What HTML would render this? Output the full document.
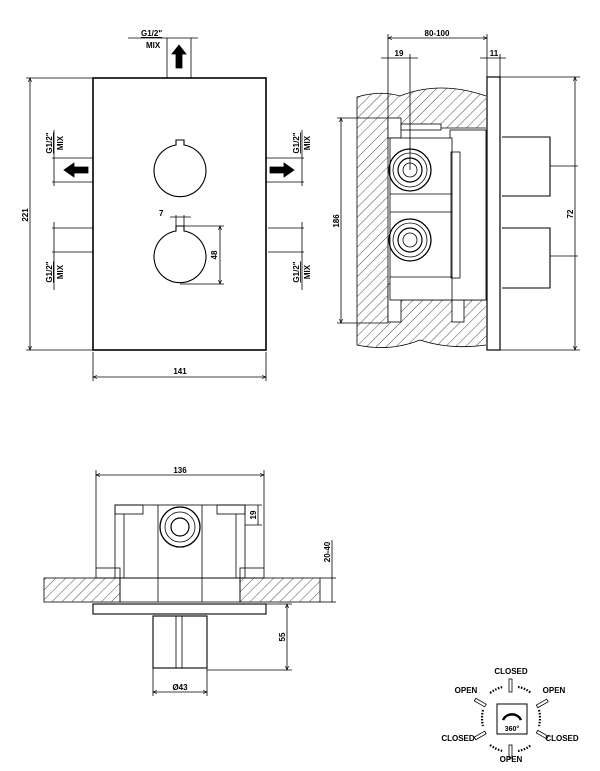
<!DOCTYPE html>
<html><head><meta charset="utf-8"><style>
html,body{margin:0;padding:0;background:#fff;}
svg{display:block;}
text{font-family:"Liberation Sans",Arial,sans-serif;font-weight:bold;fill:#000;}
</style></head><body>
<svg width="600" height="771" viewBox="0 0 600 771" xmlns="http://www.w3.org/2000/svg">
<defs>
<pattern id="h" patternUnits="userSpaceOnUse" width="7" height="7" patternTransform="rotate(45)">
<line x1="0" y1="0" x2="0" y2="7" stroke="#000" stroke-width="0.7"/>
</pattern>
<marker id="a" markerWidth="6" markerHeight="6" refX="5" refY="3" orient="auto-start-reverse"><path d="M0,1 L5,3 L0,5" fill="none" stroke="#000" stroke-width="0.8"/></marker>
</defs>
<g fill="none" stroke="#000" stroke-width="0.8">
<!-- FRONT VIEW -->
<rect x="93" y="78" width="173" height="272" stroke-width="1.6"/>
<line x1="167" y1="38" x2="167" y2="78"/><line x1="191" y1="38" x2="191" y2="78"/>
<line x1="128" y1="38" x2="198" y2="38"/>
<path d="M176,68 h6 v-14 h4 l-7,-9 l-7,9 h4 z" fill="#000"/>
<!-- circles -->
<path d="M176,145 v-5 h8 v5 A26,26 0 1 1 176,145 z" stroke-width="1.1"/>
<path d="M176,231 v-5 h8 v5 A26,26 0 1 1 176,231 z" stroke-width="1.1"/>
<line x1="170" y1="217" x2="191" y2="217"/><line x1="176" y1="215" x2="176" y2="226"/><line x1="184" y1="215" x2="184" y2="226"/>
<line x1="184" y1="226" x2="224" y2="226"/><line x1="180" y1="284" x2="224" y2="284"/>
<line x1="220" y1="226" x2="220" y2="284" marker-start="url(#a)" marker-end="url(#a)"/>
<!-- left side -->
<line x1="52" y1="158" x2="93" y2="158"/><line x1="52" y1="182" x2="93" y2="182"/>
<line x1="54" y1="130" x2="54" y2="186"/>
<path d="M88,167 h-14 v-4 l-10,7 l10,7 v-4 h14 z" fill="#000"/>
<line x1="52" y1="228" x2="93" y2="228"/><line x1="52" y1="252" x2="93" y2="252"/>
<line x1="54" y1="222" x2="54" y2="290"/>
<!-- right side -->
<line x1="266" y1="158" x2="304" y2="158"/><line x1="266" y1="182" x2="304" y2="182"/>
<line x1="302" y1="130" x2="302" y2="186"/>
<path d="M270,167 h14 v-4 l10,7 l-10,7 v-4 h-14 z" fill="#000"/>
<line x1="268" y1="228" x2="304" y2="228"/><line x1="268" y1="252" x2="304" y2="252"/>
<line x1="302" y1="222" x2="302" y2="290"/>
<!-- 221 -->
<line x1="26" y1="78" x2="93" y2="78"/><line x1="26" y1="350" x2="93" y2="350"/>
<line x1="30" y1="78" x2="30" y2="350" marker-start="url(#a)" marker-end="url(#a)"/>
<!-- 141 -->
<line x1="93" y1="352" x2="93" y2="381"/><line x1="266" y1="352" x2="266" y2="381"/>
<line x1="93" y1="377" x2="266" y2="377" marker-start="url(#a)" marker-end="url(#a)"/>

<!-- SIDE VIEW -->
<path d="M357,97 Q380,90 400,96 Q440,80 486,96 L486,128 L388,128 L388,300 L486,300 L486,345 Q450,350 420,340 Q390,352 357,345 Z" fill="url(#h)" stroke="none"/>
<path d="M357,97 Q380,90 400,96 Q440,80 486,96 M357,97 V345 Q390,352 420,340 Q450,350 486,345"/>
<path d="M388,118 V323 M388,128 H486 M388,300 H486"/>
<rect x="388" y="118" width="13" height="20" fill="#fff"/>
<rect x="388" y="284" width="13" height="38" fill="#fff"/>
<rect x="452" y="300" width="12" height="22" fill="#fff"/>
<rect x="401" y="124" width="40" height="6" fill="#fff"/>
<rect x="450" y="130" width="36" height="170" fill="#fff"/>
<rect x="390" y="138" width="62" height="162" fill="#fff"/>
<line x1="390" y1="194" x2="452" y2="194"/><line x1="390" y1="212" x2="452" y2="212"/>
<line x1="390" y1="277" x2="452" y2="277"/>
<rect x="451" y="152" width="9" height="126"/>
<circle cx="410" cy="170" r="21" stroke-width="1.3"/><circle cx="410" cy="170" r="17"/><circle cx="410" cy="170" r="12" stroke-width="1.2"/><circle cx="410" cy="170" r="7"/>
<circle cx="410" cy="240" r="21" stroke-width="1.3"/><circle cx="410" cy="240" r="17"/><circle cx="410" cy="240" r="12" stroke-width="1.2"/><circle cx="410" cy="240" r="7"/>
<rect x="487" y="77" width="13" height="273" stroke-width="1.2" fill="#fff"/>
<path d="M502,137 H550 V196 H502 M502,228 H550 V288 H502" stroke-width="1.1"/>
<line x1="550" y1="166" x2="578" y2="166"/><line x1="550" y1="256" x2="578" y2="256"/>
<line x1="500" y1="77" x2="580" y2="77"/><line x1="500" y1="350" x2="580" y2="350"/>
<line x1="575" y1="77" x2="575" y2="350" marker-start="url(#a)" marker-end="url(#a)"/>
<line x1="388" y1="34" x2="388" y2="118"/><line x1="487" y1="34" x2="487" y2="77"/>
<line x1="388" y1="38" x2="487" y2="38" marker-start="url(#a)" marker-end="url(#a)"/>
<line x1="381" y1="58" x2="418" y2="58"/><line x1="410" y1="54" x2="410" y2="170"/>
<line x1="480" y1="58" x2="506" y2="58"/><line x1="500" y1="54" x2="500" y2="77"/>
<line x1="337" y1="118" x2="388" y2="118"/><line x1="337" y1="323" x2="388" y2="323"/>
<line x1="341" y1="118" x2="341" y2="323" marker-start="url(#a)" marker-end="url(#a)"/>

<!-- BOTTOM VIEW -->
<rect x="44" y="578" width="76" height="24" fill="url(#h)"/>
<rect x="240" y="578" width="80" height="24" fill="url(#h)"/>
<rect x="120" y="578" width="120" height="24"/>
<line x1="158" y1="578" x2="158" y2="602"/><line x1="202" y1="578" x2="202" y2="602"/>
<rect x="115" y="505" width="130" height="73"/>
<rect x="115" y="505" width="28" height="9"/><rect x="217" y="505" width="28" height="9"/>
<rect x="96" y="568" width="24" height="10"/><rect x="240" y="568" width="24" height="10"/>
<line x1="158" y1="505" x2="158" y2="578"/><line x1="202" y1="505" x2="202" y2="578"/>
<line x1="124" y1="514" x2="124" y2="578"/><line x1="236" y1="514" x2="236" y2="578"/>
<circle cx="180" cy="527" r="20" stroke-width="1.3"/><circle cx="180" cy="527" r="15"/><circle cx="180" cy="527" r="9" stroke-width="1.2"/>
<rect x="93" y="604" width="173" height="10" stroke-width="1.1"/>
<rect x="153" y="616" width="54" height="52" stroke-width="1.1"/>
<line x1="176" y1="616" x2="176" y2="668"/><line x1="182" y1="616" x2="182" y2="668"/>
<line x1="96" y1="470" x2="96" y2="568"/><line x1="264" y1="470" x2="264" y2="568"/>
<line x1="96" y1="475" x2="264" y2="475" marker-start="url(#a)" marker-end="url(#a)"/>
<line x1="245" y1="505" x2="262" y2="505"/><line x1="245" y1="525" x2="262" y2="525"/>
<line x1="258" y1="505" x2="258" y2="525"/>
<line x1="320" y1="578" x2="336" y2="578"/><line x1="320" y1="602" x2="336" y2="602"/>
<line x1="332" y1="540" x2="332" y2="602"/>
<line x1="266" y1="604" x2="292" y2="604"/><line x1="207" y1="670" x2="292" y2="670"/>
<line x1="287" y1="604" x2="287" y2="670" marker-start="url(#a)" marker-end="url(#a)"/>
<line x1="153" y1="668" x2="153" y2="696"/><line x1="207" y1="668" x2="207" y2="696"/>
<line x1="153" y1="692" x2="207" y2="692" marker-start="url(#a)" marker-end="url(#a)"/>

<!-- rotation icon -->
<rect x="497" y="704" width="30" height="30" stroke-width="1"/>
<path d="M503,720 A10,10 0 0 1 521,720" stroke-width="2.5"/>
<rect x="509" y="679" width="3" height="13"/><rect x="509" y="745" width="3" height="13"/>
<rect x="479" y="697" width="3" height="12" transform="rotate(-60 480 703)"/>
<rect x="541" y="697" width="3" height="12" transform="rotate(60 542 703)"/>
<rect x="479" y="729" width="3" height="12" transform="rotate(60 480 735)"/>
<rect x="541" y="729" width="3" height="12" transform="rotate(-60 542 735)"/>
<g stroke-dasharray="1.5 1.5" stroke-width="2.2">
<path d="M490,693 Q497,688 503,687"/><path d="M518,687 Q525,688 531,693"/>
<path d="M483,710 Q481,718 483,726"/><path d="M539,710 Q541,718 539,726"/>
<path d="M490,745 Q497,750 503,751"/><path d="M518,751 Q525,750 531,745"/>
</g>
</g>
<!-- TEXT -->
<g font-size="8">
<text x="141" y="36" text-decoration="underline">G1/2"</text><text x="146" y="48">MIX</text>
<text transform="translate(52,143) rotate(-90)" text-anchor="middle" text-decoration="underline">G1/2"</text>
<text transform="translate(63,143) rotate(-90)" text-anchor="middle">MIX</text>
<text transform="translate(52,272) rotate(-90)" text-anchor="middle" text-decoration="underline">G1/2"</text>
<text transform="translate(63,272) rotate(-90)" text-anchor="middle">MIX</text>
<text transform="translate(299,143) rotate(-90)" text-anchor="middle" text-decoration="underline">G1/2"</text>
<text transform="translate(310,143) rotate(-90)" text-anchor="middle">MIX</text>
<text transform="translate(299,272) rotate(-90)" text-anchor="middle" text-decoration="underline">G1/2"</text>
<text transform="translate(310,272) rotate(-90)" text-anchor="middle">MIX</text>
<text transform="translate(28,215) rotate(-90)" text-anchor="middle">221</text>
<text x="180" y="374" text-anchor="middle">141</text>
<text x="159" y="216">7</text>
<text transform="translate(217,255) rotate(-90)" text-anchor="middle">48</text>
<text x="437" y="36" text-anchor="middle">80-100</text>
<text x="399" y="56" text-anchor="middle">19</text>
<text x="494" y="56" text-anchor="middle">11</text>
<text transform="translate(339,221) rotate(-90)" text-anchor="middle">186</text>
<text transform="translate(573,214) rotate(-90)" text-anchor="middle">72</text>
<text x="180" y="473" text-anchor="middle">136</text>
<text transform="translate(256,515) rotate(-90)" text-anchor="middle">19</text>
<text transform="translate(330,552) rotate(-90)" text-anchor="middle">20-40</text>
<text transform="translate(285,637) rotate(-90)" text-anchor="middle">55</text>
<text x="180" y="690" text-anchor="middle">Ø43</text>
<text x="511" y="674" text-anchor="middle">CLOSED</text>
<text x="466" y="693" text-anchor="middle">OPEN</text>
<text x="554" y="693" text-anchor="middle">OPEN</text>
<text x="458" y="741" text-anchor="middle">CLOSED</text>
<text x="562" y="741" text-anchor="middle">CLOSED</text>
<text x="511" y="762" text-anchor="middle">OPEN</text>
<text x="512" y="731" text-anchor="middle" font-size="7">360°</text>
</g>
</svg>
</body></html>
